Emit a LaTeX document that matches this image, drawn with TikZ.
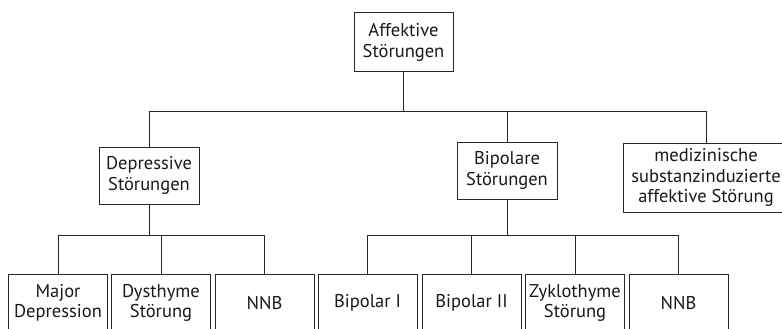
\documentclass[tikz,border=0pt]{standalone}
\usepackage{fontspec}
\setmainfont{PT Sans}
\begin{document}
\begin{tikzpicture}[x=1pt,y=-1pt,
  box/.style={draw=black!85, line width=1pt, inner sep=0pt, align=center,
    text=black!90, font=\fontsize{18.5}{20.5}\selectfont},
  leaf/.style={box, minimum width=99pt, minimum height=58pt},
  conn/.style={draw=black!85, line width=1pt}]
\useasboundingbox (0,0) rectangle (782,329);
\clip (0,0) rectangle (782,329);
% level 0
\node[box, minimum width=99pt, minimum height=59pt] (top) at (403.5,42.5) {Affektive\\Störungen};
% level 1
\node[box, minimum width=100pt, minimum height=57pt] (dep) at (149,175.5) {Depressive\\Störungen};
\node[box, minimum width=100pt, minimum height=57pt] (bip) at (507,170.5) {Bipolare\\Störungen};
\node[box, minimum width=166pt, minimum height=69pt] (med) at (706,177.5) {medizinische\\substanzinduzierte\\affektive Störung};
% level 2
\node[leaf] (maj) at (58,303) {Major\\Depression};
\node[leaf] (dys) at (161,303) {Dysthyme\\Störung};
\node[leaf] (nnba) at (264.5,303) {NNB};
\node[leaf] (bpa) at (367.5,303) {Bipolar I};
\node[leaf] (bpb) at (471.5,303) {Bipolar II};
\node[leaf] (zyk) at (575,303) {Zyklothyme\\Störung};
\node[leaf] (nnbb) at (678.5,303) {NNB};
% buses
\coordinate (busA) at (0,111);
\coordinate (busB) at (0,235);
\draw[conn] (top.south) -- (top.south |- busA);
\draw[conn] (dep.north) -- (dep.north |- busA) -- (med.north |- busA) -- (med.north);
\draw[conn] (bip.north) -- (bip.north |- busA);
\draw[conn] (dep.south) -- (dep.south |- busB);
\draw[conn] (maj.north) -- (maj.north |- busB) -- (nnba.north |- busB) -- (nnba.north);
\draw[conn] (dys.north) -- (dys.north |- busB);
\draw[conn] (bip.south) -- (bip.south |- busB);
\draw[conn] (bpa.north) -- (bpa.north |- busB) -- (nnbb.north |- busB) -- (nnbb.north);
\draw[conn] (bpb.north) -- (bpb.north |- busB);
\draw[conn] (zyk.north) -- (zyk.north |- busB);
\end{tikzpicture}
\end{document}
